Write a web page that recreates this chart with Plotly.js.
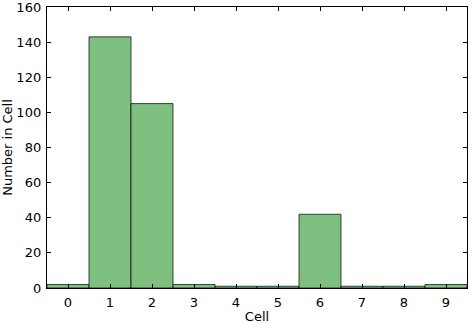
<!DOCTYPE html>
<html>
<head>
<meta charset="utf-8">
<script src="https://cdn.plot.ly/plotly-3.0.1.min.js"></script>
<style>html,body{margin:0;padding:0;background:#fff;}#chart{width:472px;height:324px;}</style>
</head>
<body>
<div id="chart"></div>
<script>
const cells = [0, 1, 2, 3, 4, 5, 6, 7, 8, 9];
const counts = [2, 143, 105, 2, 1, 1, 42, 1, 1, 2];
const yTicks = [0, 20, 40, 60, 80, 100, 120, 140, 160];

const axisCommon = {
  showgrid: false, zeroline: false, showline: true, linecolor: '#000', linewidth: 1.2,
  mirror: 'allticks', ticks: 'inside', ticklen: 4, tickcolor: '#000', tickwidth: 1,
  tickfont: {family: 'DejaVu Sans', size: 13, color: '#000'}, ticklabeloverflow: 'allow'
};

Plotly.newPlot('chart', [{
  type: 'bar', x: cells, y: counts, width: 1,
  marker: {color: 'rgb(127,191,127)', line: {color: 'rgba(0,0,0,0.7)', width: 1}},
  hoverinfo: 'none'
}], {
  width: 472, height: 324,
  margin: {l: 47, r: 5, t: 7, b: 36},
  paper_bgcolor: '#fff', plot_bgcolor: '#fff',
  showlegend: false, bargap: 0,
  xaxis: Object.assign({}, axisCommon, {
    range: [-0.5, 9.5], tickvals: cells, ticktext: cells.map(String), ticklabelstandoff: 2,
    title: {text: 'Cell', font: {family: 'DejaVu Sans', size: 13, color: '#000'}, standoff: 4}
  }),
  yaxis: Object.assign({}, axisCommon, {
    range: [0, 160], tickvals: yTicks, ticktext: yTicks.map(String), ticklabelstandoff: 2,
    title: {text: 'Number in Cell', font: {family: 'DejaVu Sans', size: 13, color: '#000'}, standoff: 4}
  })
}, {staticPlot: true});
</script>
</body>
</html>
